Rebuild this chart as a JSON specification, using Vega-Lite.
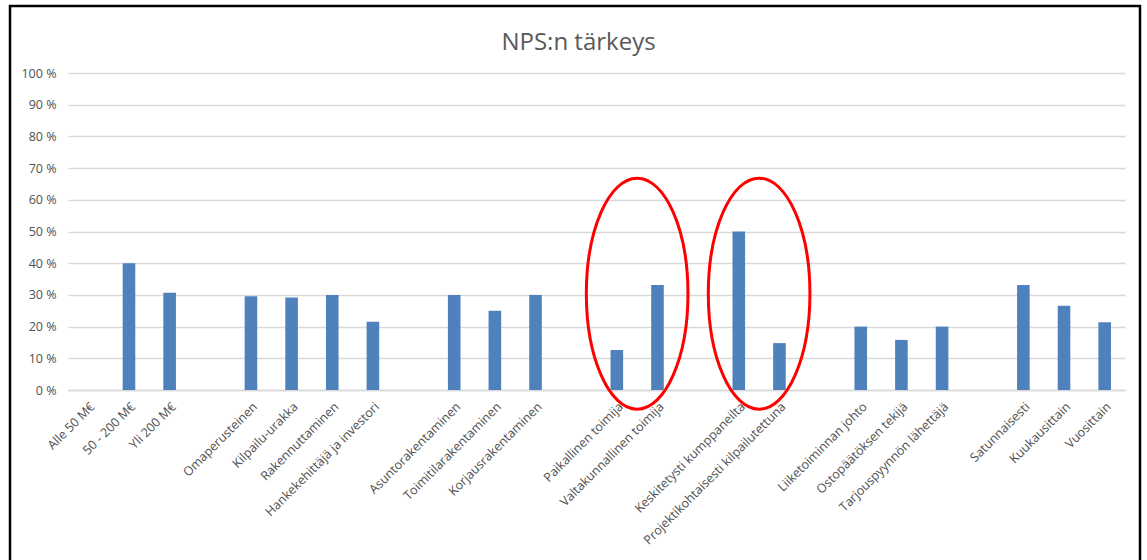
{
  "$schema": "https://vega.github.io/schema/vega-lite/v6.json",
  "autosize": "none",
  "width": 1057,
  "height": 317,
  "padding": {"left": 68, "top": 73, "right": 22, "bottom": 170},
  "background": "white",
  "config": {
    "view": {"stroke": null},
    "font": "Open Sans",
    "axisY": {
      "title": null,
      "values": [0, 10, 20, 30, 40, 50, 60, 70, 80, 90, 100],
      "labelExpr": "datum.value + ' %'",
      "labelOverlap": false,
      "labelFontSize": 12.5,
      "labelColor": "#505050",
      "labelPadding": 12,
      "ticks": false,
      "domain": false,
      "grid": true,
      "gridColor": "#d9d9d9",
      "gridWidth": 1.5
    }
  },
  "datasets": {
    "bars": [
      {"kategoria": "Alle 50 M€", "osuus": 0},
      {"kategoria": "50 - 200 M€", "osuus": 40},
      {"kategoria": "Yli 200 M€", "osuus": 30.7},
      {"kategoria": "Omaperusteinen", "osuus": 29.6},
      {"kategoria": "Kilpailu-urakka", "osuus": 29.2},
      {"kategoria": "Rakennuttaminen", "osuus": 30},
      {"kategoria": "Hankekehittäjä ja investori", "osuus": 21.5},
      {"kategoria": "Asuntorakentaminen", "osuus": 30},
      {"kategoria": "Toimitilarakentaminen", "osuus": 25},
      {"kategoria": "Korjausrakentaminen", "osuus": 30},
      {"kategoria": "Paikallinen toimija", "osuus": 12.6},
      {"kategoria": "Valtakunnallinen toimija", "osuus": 33.1},
      {"kategoria": "Keskitetysti kumppaneilta", "osuus": 50},
      {"kategoria": "Projektikohtaisesti kilpailutettuna", "osuus": 14.8},
      {"kategoria": "Liiketoiminnan johto", "osuus": 20},
      {"kategoria": "Ostopäätöksen tekijä", "osuus": 15.8},
      {"kategoria": "Tarjouspyynnön lähettäjä", "osuus": 20},
      {"kategoria": "Satunnaisesti", "osuus": 33.1},
      {"kategoria": "Kuukausittain", "osuus": 26.6},
      {"kategoria": "Vuosittain", "osuus": 21.4}
    ],
    "ellipsit": [
      {"keskikohta": 14, "osuus": 30.4},
      {"keskikohta": 17, "osuus": 30.4}
    ]
  },
  "layer": [
    {
      "data": {"values": [{"kehys": 1}]},
      "mark": {"type": "rect", "fill": null, "stroke": "black", "strokeWidth": 2.5, "clip": false},
      "encoding": {
        "x": {"value": -58},
        "x2": {"value": 1072},
        "y": {"value": -67},
        "y2": {"value": 600}
      }
    },
    {
      "data": {"name": "bars"},
      "mark": {"type": "bar", "color": "#4f81bd"},
      "encoding": {
        "x": {
          "field": "kategoria",
          "type": "nominal",
          "sort": null,
          "scale": {
            "domain": [
              "Alle 50 M€", "50 - 200 M€", "Yli 200 M€", "_gap1",
              "Omaperusteinen", "Kilpailu-urakka", "Rakennuttaminen", "Hankekehittäjä ja investori", "_gap2",
              "Asuntorakentaminen", "Toimitilarakentaminen", "Korjausrakentaminen", "_gap3",
              "Paikallinen toimija", "Valtakunnallinen toimija", "_gap4",
              "Keskitetysti kumppaneilta", "Projektikohtaisesti kilpailutettuna", "_gap5",
              "Liiketoiminnan johto", "Ostopäätöksen tekijä", "Tarjouspyynnön lähettäjä", "_gap6",
              "Satunnaisesti", "Kuukausittain", "Vuosittain"
            ],
            "paddingInner": 0.69,
            "paddingOuter": 0.345
          },
          "axis": {
            "title": null,
            "labelAngle": -45,
            "labelExpr": "indexof(datum.value, '_gap') == 0 ? '' : datum.value",
            "labelFontSize": 12.5,
            "labelColor": "#505050",
            "labelOverlap": false,
            "labelLimit": 0,
            "labelPadding": 10,
            "ticks": false,
            "domainColor": "#d9d9d9",
            "domainWidth": 1.5,
            "grid": false
          }
        },
        "y": {
          "field": "osuus",
          "type": "quantitative",
          "scale": {"domain": [0, 100], "nice": false}
        }
      }
    },
    {
      "data": {"name": "ellipsit"},
      "mark": {
        "type": "point",
        "shape": "M -0.44 0 A 0.44 1 0 1 0 0.44 0 A 0.44 1 0 1 0 -0.44 0 Z",
        "size": 53361,
        "filled": false,
        "stroke": "#ff0000",
        "strokeWidth": 3,
        "opacity": 1,
        "clip": false
      },
      "encoding": {
        "x": {
          "field": "keskikohta",
          "type": "quantitative",
          "scale": {"domain": [0, 26], "nice": false, "zero": false},
          "axis": {
            "orient": "top",
            "title": "NPS:n tärkeys",
            "titleFontSize": 24,
            "titleFontWeight": "normal",
            "titleColor": "#595959",
            "titleFont": "Open Sans",
            "titlePadding": 19,
            "titleX": 510,
            "labels": false,
            "ticks": false,
            "domain": false,
            "grid": false
          }
        },
        "y": {"field": "osuus", "type": "quantitative"}
      }
    }
  ],
  "resolve": {"scale": {"x": "independent"}}
}
